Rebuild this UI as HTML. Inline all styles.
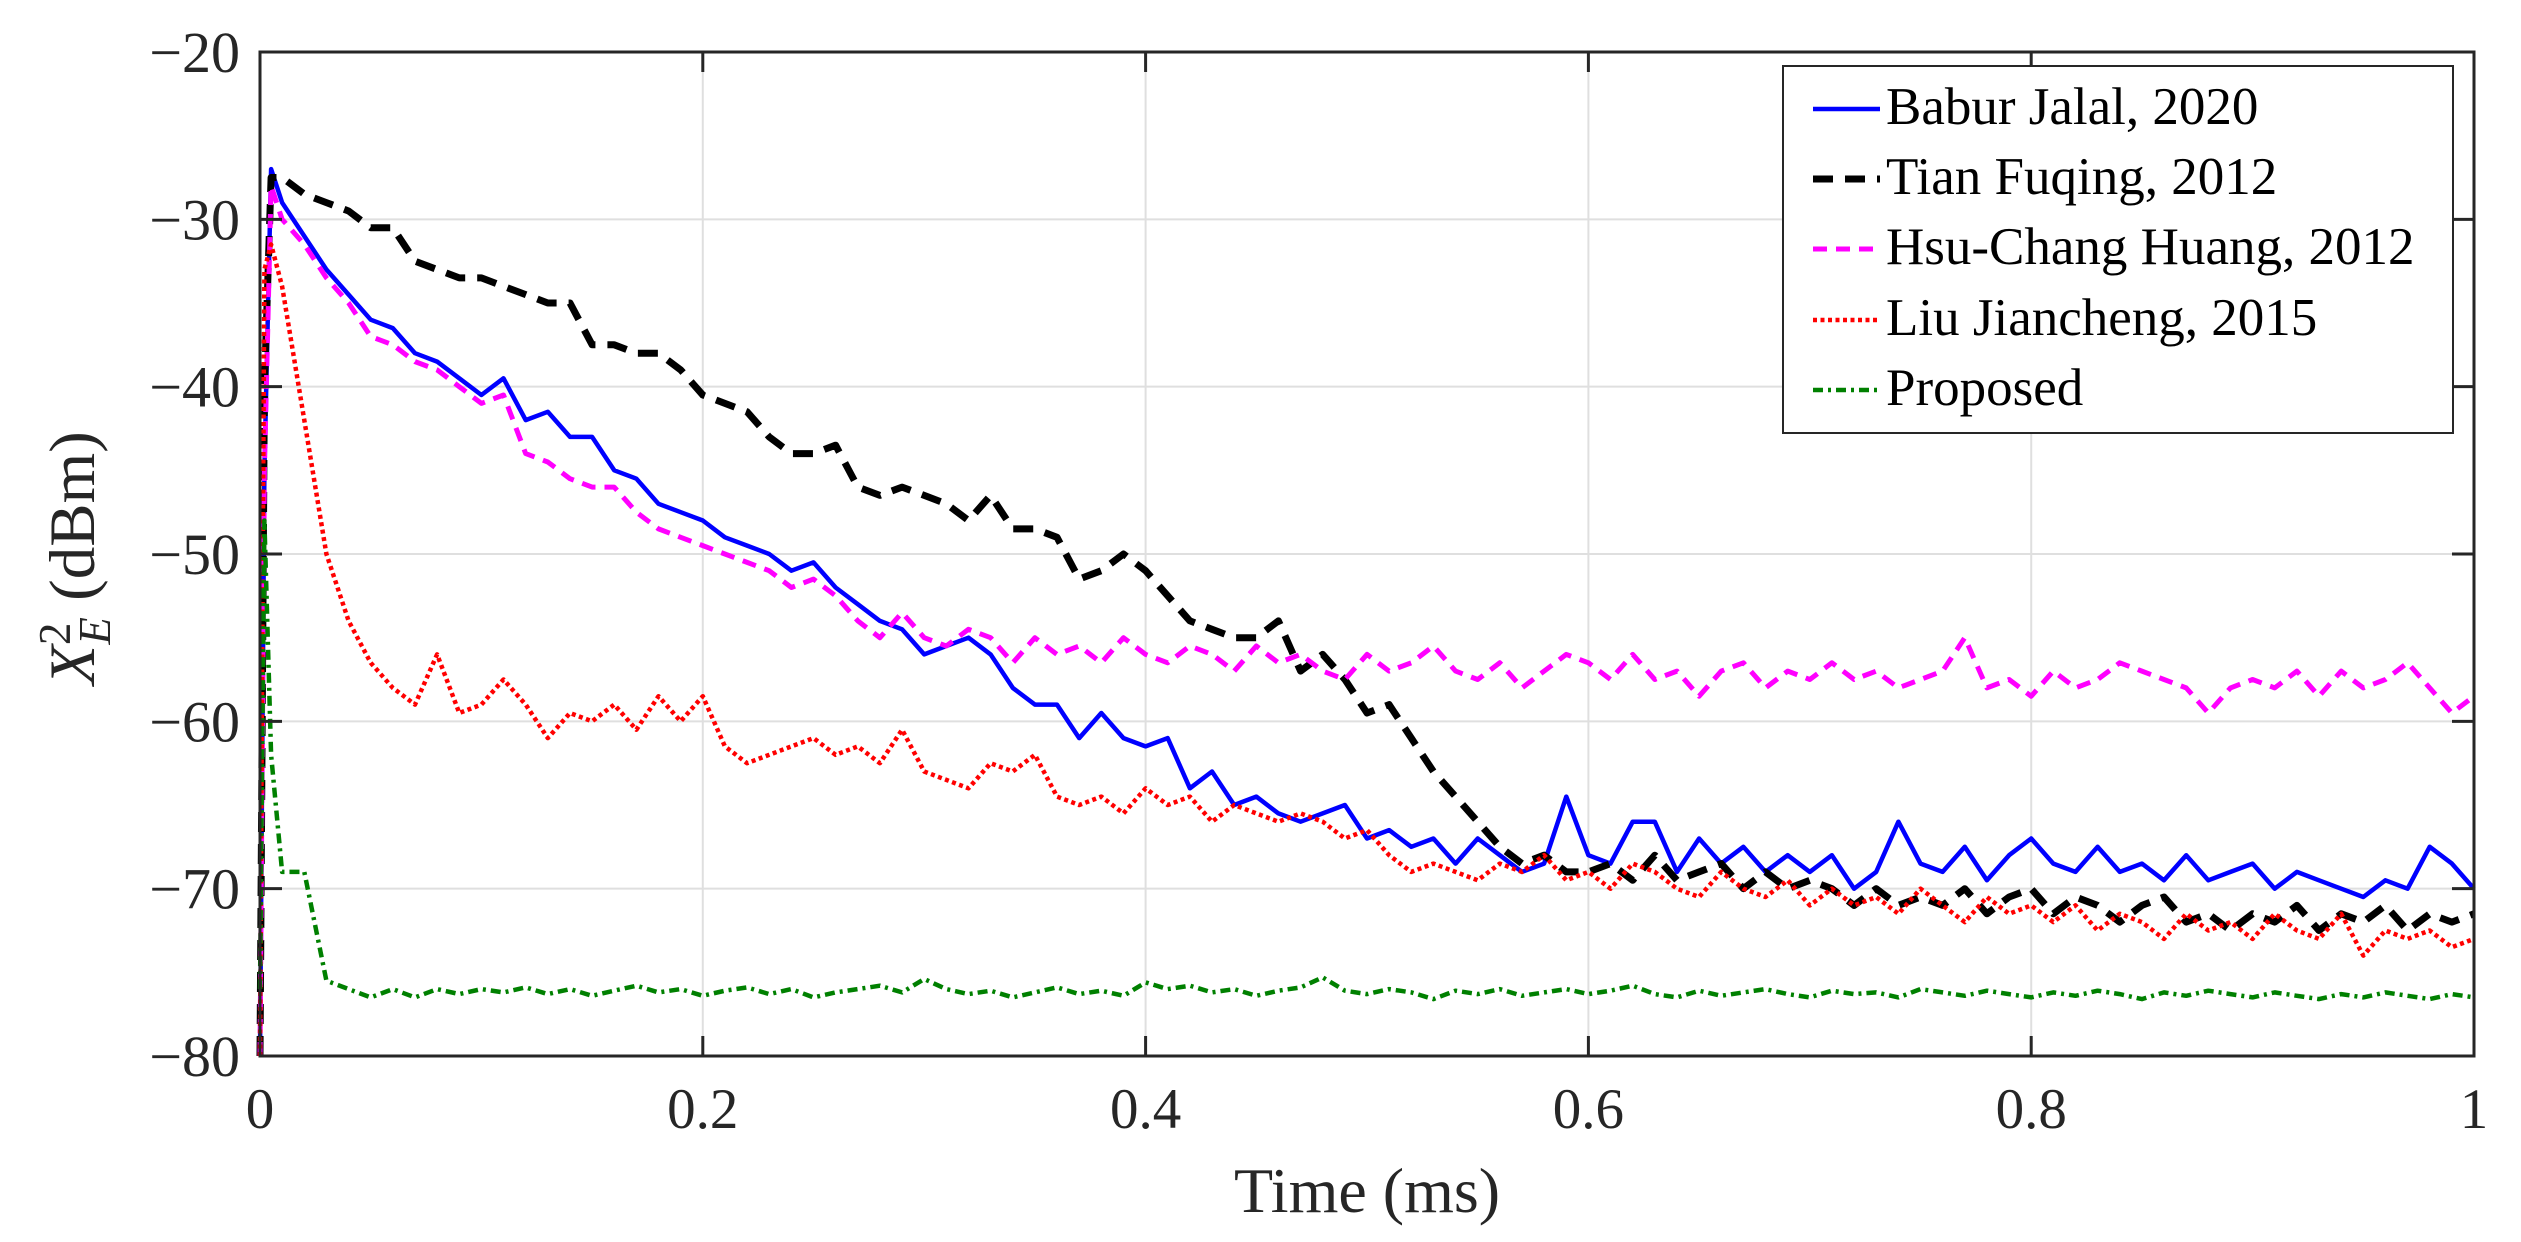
<!DOCTYPE html>
<html><head><meta charset="utf-8"><style>
html,body{margin:0;padding:0;background:#fff;}
svg{display:block;font-family:"Liberation Serif",serif;}
</style></head><body>
<svg id="chart" width="2521" height="1242" viewBox="0 0 2521 1242" xmlns="http://www.w3.org/2000/svg">
<rect x="0" y="0" width="2521" height="1242" fill="#fff"/>
<g id="grid"></g>
<g id="series"></g>
<g id="axes"></g>
<text x="1367" y="1212" font-size="64" text-anchor="middle" fill="#262626">Time (ms)</text>
<text transform="translate(94,558) rotate(-90)" font-size="65" text-anchor="middle" fill="#262626"><tspan font-style="italic">X</tspan><tspan font-size="45" dy="-24">2</tspan><tspan font-style="italic" font-size="45" dx="-22" dy="40">E</tspan><tspan dy="-16"> (dBm)</tspan></text>
<g id="legend">
<rect x="1783" y="66" width="670" height="367" fill="#fff" stroke="#262626" stroke-width="2"/>
</g>
</svg>
<script>
const xLeft=260,xRight=2474,yTop=52,yBot=1056;
const xMin=0,xMax=1,yMin=-80,yMax=-20;
const xTicks=[0,0.2,0.4,0.6,0.8,1];
const xTickLabels=["0","0.2","0.4","0.6","0.8","1"];
const yTicks=[-80,-70,-60,-50,-40,-30,-20];
const yTickLabels=["\u221280","\u221270","\u221260","\u221250","\u221240","\u221230","\u221220"];
const seriesNames=["Babur Jalal, 2020","Tian Fuqing, 2012","Hsu-Chang Huang, 2012","Liu Jiancheng, 2015","Proposed"];
const timeEarly=[0,0.002,0.005];
const babur=[-80,-45,-27,
-29,-31,-33,-34.5,-36,-36.5,-38,-38.5,-39.5,-40.5,
-39.5,-42,-41.5,-43,-43,-45,-45.5,-47,-47.5,-48,
-49,-49.5,-50,-51,-50.5,-52,-53,-54,-54.5,-56,
-55.5,-55,-56,-58,-59,-59,-61,-59.5,-61,-61.5,
-61,-64,-63,-65,-64.5,-65.5,-66,-65.5,-65,-67,
-66.5,-67.5,-67,-68.5,-67,-68,-69,-68.5,-64.5,-68,
-68.5,-66,-66,-69,-67,-68.5,-67.5,-69,-68,-69,
-68,-70,-69,-66,-68.5,-69,-67.5,-69.5,-68,-67,
-68.5,-69,-67.5,-69,-68.5,-69.5,-68,-69.5,-69,-68.5,
-70,-69,-69.5,-70,-70.5,-69.5,-70,-67.5,-68.5,-70];
const tian=[-80,-40,-27.5,
-27.5,-28.5,-29,-29.5,-30.5,-30.5,-32.5,-33,-33.5,-33.5,
-34,-34.5,-35,-35,-37.5,-37.5,-38,-38,-39,-40.5,
-41,-41.5,-43,-44,-44,-43.5,-46,-46.5,-46,-46.5,
-47,-48,-46.5,-48.5,-48.5,-49,-51.5,-51,-50,-51,
-52.5,-54,-54.5,-55,-55,-54,-57,-56,-57.5,-59.5,
-59,-61,-63,-64.5,-66,-67.5,-68.5,-68,-69,-69,
-68.5,-69.5,-68,-69.5,-69,-68.5,-70,-69,-70,-69.5,
-70,-71,-70,-71,-70.5,-71,-70,-71.5,-70.5,-70,
-71.5,-70.5,-71,-72,-71,-70.5,-72,-71.5,-72.5,-71.5,
-72,-71,-72.5,-71.5,-72,-71,-72.5,-71.5,-72,-71.5];
const hsu=[-80,-45,-28,
-30,-31.5,-33.5,-35,-37,-37.5,-38.5,-39,-40,-41,
-40.5,-44,-44.5,-45.5,-46,-46,-47.5,-48.5,-49,-49.5,
-50,-50.5,-51,-52,-51.5,-52.5,-54,-55,-53.5,-55,
-55.5,-54.5,-55,-56.5,-55,-56,-55.5,-56.5,-55,-56,
-56.5,-55.5,-56,-57,-55.5,-56.5,-56,-57,-57.5,-56,
-57,-56.5,-55.5,-57,-57.5,-56.5,-58,-57,-56,-56.5,
-57.5,-56,-57.5,-57,-58.5,-57,-56.5,-58,-57,-57.5,
-56.5,-57.5,-57,-58,-57.5,-57,-55,-58,-57.5,-58.5,
-57,-58,-57.5,-56.5,-57,-57.5,-58,-59.5,-58,-57.5,
-58,-57,-58.5,-57,-58,-57.5,-56.5,-58,-59.5,-58.5];
const liu=[-80,-33,-31.5,
-34,-42,-50,-54,-56.5,-58,-59,-56,-59.5,-59,
-57.5,-59,-61,-59.5,-60,-59,-60.5,-58.5,-60,-58.5,
-61.5,-62.5,-62,-61.5,-61,-62,-61.5,-62.5,-60.5,-63,
-63.5,-64,-62.5,-63,-62,-64.5,-65,-64.5,-65.5,-64,
-65,-64.5,-66,-65,-65.5,-66,-65.5,-66,-67,-66.5,
-68,-69,-68.5,-69,-69.5,-68.5,-69,-68,-69.5,-69,
-70,-68.5,-69,-70,-70.5,-69,-70,-70.5,-69.5,-71,
-70,-71,-70.5,-71.5,-70,-71,-72,-70.5,-71.5,-71,
-72,-71,-72.5,-71.5,-72,-73,-71.5,-72.5,-72,-73,
-71.5,-72.5,-73,-71.5,-74,-72.5,-73,-72.5,-73.5,-73];
const proposed=[-76,-48,-62,
-69,-69,-75.5,-76,-76.5,-76,-76.5,-76,-76.3,-76,
-76.2,-75.9,-76.3,-76,-76.4,-76.1,-75.8,-76.2,-76,-76.4,
-76.1,-75.9,-76.3,-76,-76.5,-76.2,-76,-75.8,-76.2,-75.4,
-76,-76.3,-76.1,-76.5,-76.2,-75.9,-76.3,-76.1,-76.4,-75.6,
-76,-75.8,-76.2,-76,-76.4,-76.1,-75.9,-75.3,-76.1,-76.3,
-76,-76.2,-76.6,-76.1,-76.3,-76,-76.4,-76.2,-76,-76.3,
-76.1,-75.8,-76.3,-76.5,-76.1,-76.4,-76.2,-76,-76.3,-76.5,
-76.1,-76.3,-76.2,-76.5,-76,-76.2,-76.4,-76.1,-76.3,-76.5,
-76.2,-76.4,-76.1,-76.3,-76.6,-76.2,-76.4,-76.1,-76.3,-76.5,
-76.2,-76.4,-76.6,-76.3,-76.5,-76.2,-76.4,-76.6,-76.3,-76.5];

const timeGrid=timeEarly.slice();
for(let i=1;i<=100;i++) timeGrid.push(i/100);

function sx(v){return xLeft+(v-xMin)/(xMax-xMin)*(xRight-xLeft);}
function sy(v){return yBot-(v-yMin)/(yMax-yMin)*(yBot-yTop);}
const NS="http://www.w3.org/2000/svg";
function mk(tag,parent){const e=document.createElementNS(NS,tag);parent.appendChild(e);return e;}
const grid=document.getElementById('grid'),axes=document.getElementById('axes'),ser=document.getElementById('series'),leg=document.getElementById('legend');

xTicks.forEach((t,i)=>{
  const x=sx(t);
  if(i>0&&i<xTicks.length-1){const g=mk('line',grid);
    
    
    g.setAttribute('x1',x);g.setAttribute('x2',x);g.setAttribute('y1',yTop);g.setAttribute('y2',yBot);g.setAttribute('stroke','#dfdfdf');g.setAttribute('stroke-width','2');}
  [[yBot,yBot-20],[yTop,yTop+20]].forEach(p=>{const tk=mk('line',axes);
    
    
    tk.setAttribute('x1',x);tk.setAttribute('x2',x);tk.setAttribute('y1',p[0]);tk.setAttribute('y2',p[1]);tk.setAttribute('stroke','#262626');tk.setAttribute('stroke-width','3');});
  const lb=mk('text',axes);
  
  
  lb.setAttribute('x',x);lb.setAttribute('y',1128);lb.setAttribute('font-size','57');lb.setAttribute('text-anchor','middle');lb.setAttribute('fill','#262626');lb.textContent=xTickLabels[i];
});
yTicks.forEach((t,i)=>{
  const y=sy(t);
  if(i>0&&i<yTicks.length-1){const g=mk('line',grid);
    
    
    g.setAttribute('x1',xLeft);g.setAttribute('x2',xRight);g.setAttribute('y1',y);g.setAttribute('y2',y);g.setAttribute('stroke','#dfdfdf');g.setAttribute('stroke-width','2');}
  [[xLeft,xLeft+22],[xRight,xRight-22]].forEach(p=>{const tk=mk('line',axes);
    
    
    tk.setAttribute('x1',p[0]);tk.setAttribute('x2',p[1]);tk.setAttribute('y1',y);tk.setAttribute('y2',y);tk.setAttribute('stroke','#262626');tk.setAttribute('stroke-width','3');});
  const lb=mk('text',axes);
  
  
  lb.setAttribute('x',240);lb.setAttribute('y',y+20);lb.setAttribute('font-size','58');lb.setAttribute('text-anchor','end');lb.setAttribute('fill','#262626');lb.textContent=yTickLabels[i];
});
const frame=mk('rect',axes);


frame.setAttribute('x',xLeft);frame.setAttribute('y',yTop);frame.setAttribute('width',xRight-xLeft);frame.setAttribute('height',yBot-yTop);frame.setAttribute('fill','none');frame.setAttribute('stroke','#262626');frame.setAttribute('stroke-width','3');

const styles=[
 {c:'#0000ff',w:4.5,d:''},
 {c:'#000000',w:7,d:'20 12'},
 {c:'#ff00ff',w:5,d:'14 9'},
 {c:'#ff0000',w:4.5,d:'4 3.5'},
 {c:'#008000',w:4.5,d:'10 5 3 5'}];
const allData=[babur,tian,hsu,liu,proposed];
const seriesIds=['series-babur-jalal','series-tian-fuqing','series-hsu-chang-huang','series-liu-jiancheng','series-proposed'];
allData.forEach((vals,k)=>{
  const p=mk('path',ser);
  
  
  let d='';vals.forEach((v,i)=>{d+=(i?'L':'M')+sx(timeGrid[i]).toFixed(1)+','+sy(v).toFixed(1);});
  p.setAttribute('d',d);p.setAttribute('fill','none');p.setAttribute('stroke',styles[k].c);p.setAttribute('stroke-width',styles[k].w);
  p.setAttribute('stroke-linejoin','round');
  if(styles[k].d)p.setAttribute('stroke-dasharray',styles[k].d);
});
const legY=[124,194,264,335,405];
seriesNames.forEach((n,k)=>{
  const l=mk('line',leg);
  
  
  l.setAttribute('x1',1813);l.setAttribute('x2',1880);l.setAttribute('y1',legY[k]-15);l.setAttribute('y2',legY[k]-15);
  l.setAttribute('stroke',styles[k].c);l.setAttribute('stroke-width',styles[k].w);
  if(styles[k].d)l.setAttribute('stroke-dasharray',styles[k].d);
  const t=mk('text',leg);
  
  
  t.setAttribute('x',1886);t.setAttribute('y',legY[k]);t.setAttribute('font-size','53');t.setAttribute('fill','#000');t.textContent=n;
});
</script>
</body></html>
